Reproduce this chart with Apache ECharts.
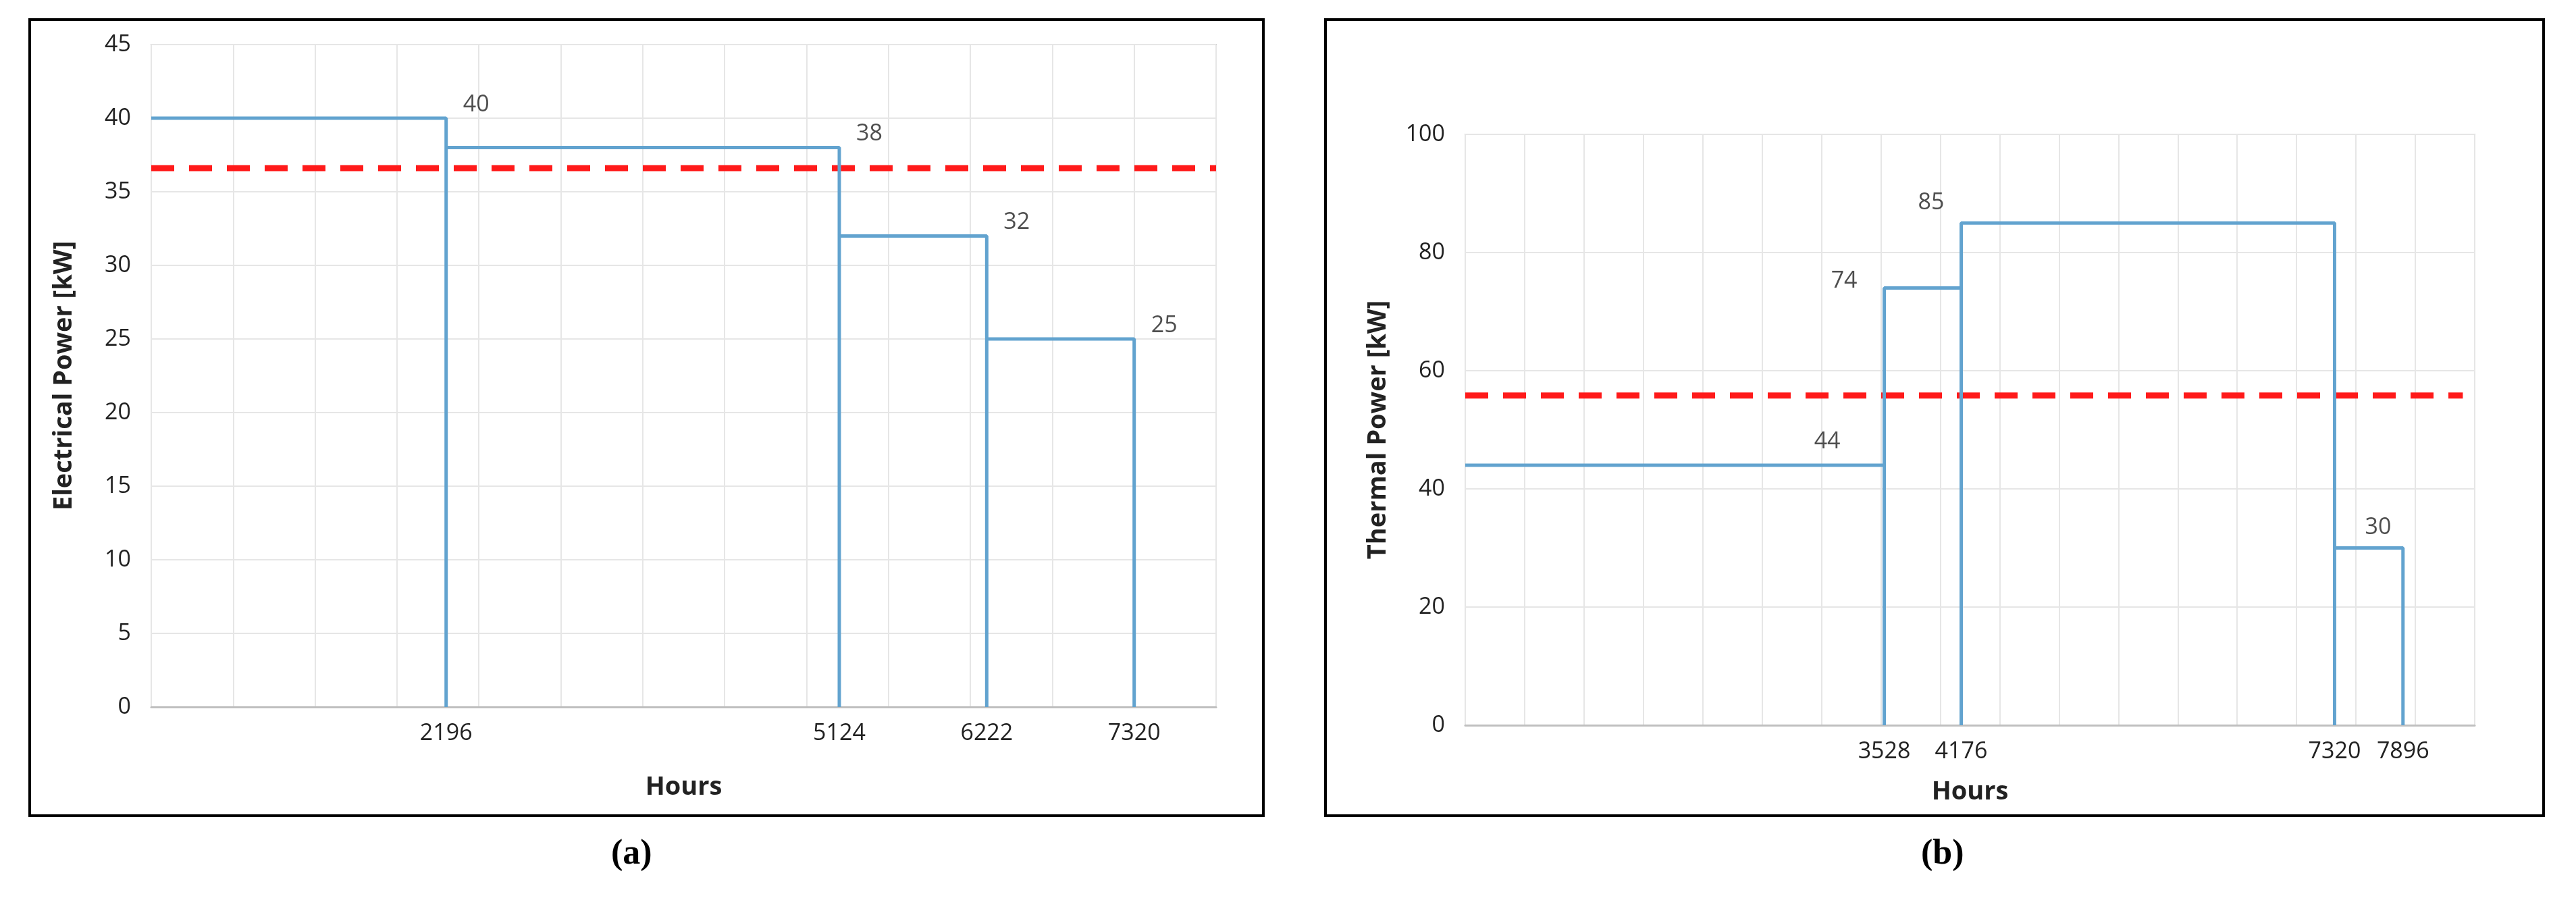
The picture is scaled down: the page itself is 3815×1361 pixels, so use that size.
<!DOCTYPE html>
<html><head><meta charset="utf-8">
<script src="https://cdn.jsdelivr.net/npm/echarts@6/dist/echarts.min.js"></script>
<style>html,body{margin:0;background:#fff}#c{width:3815px;height:1361px}</style>
</head><body><div id="c"></div>
<script>
// data
let elecHours = [0, 2196, 5124, 6222, 7320];
let elecValues = [40, 38, 32, 25];
let elecMean = 36.6;
let thermHours = [0, 3528, 4176, 7320, 7896];
let thermValues = [44, 74, 85, 30];
let thermMean = 55.8;

function stepPts(h, v){
  let pts = [];
  for(let i=0;i<v.length;i++){
    if(i>0) pts.push([h[i], v[i]]);
    else pts.push([h[0], v[0]]);
    pts.push([h[i+1], v[i]]);
    pts.push([h[i+1], 0]);
  }
  return pts;
}

let tickFont = {fontFamily:'Open Sans', fontSize:34, color:'#222'};
let blue = '#62a3cf';

function lbl(pos, off){
  return {show:true, position:pos, offset:off, fontSize:34, fontFamily:'Open Sans', color:'#222', formatter: p => p.value[1]};
}

var myChart = echarts.init(document.getElementById('c'));
var option = {
  animation:false,
  backgroundColor:'#fff',
  graphic:[
    {type:'rect', shape:{x:44,y:29,width:1827,height:1179}, style:{fill:'none', stroke:'#000', lineWidth:4}},
    {type:'rect', shape:{x:1963,y:29,width:1804,height:1179}, style:{fill:'none', stroke:'#000', lineWidth:4}},
    {type:'text', left:905, top:1240, style:{text:'(a)', font:'bold 52px "Liberation Serif"', fill:'#000'}},
    {type:'text', left:2845, top:1240, style:{text:'(b)', font:'bold 52px "Liberation Serif"', fill:'#000'}}
  ],
  grid:[
    {left:224, right:2014, top:66, bottom:314, show:true, borderColor:'#c8c8c8', borderWidth:2},
    {left:2170, right:150, top:199, bottom:287, show:true, borderColor:'#c8c8c8', borderWidth:2}
  ],
  xAxis:[
    {gridIndex:0, position:'bottom', type:'value', min:0, max:7930, interval:610, axisLabel:{show:false}, axisTick:{show:false}, axisLine:{show:false}, splitLine:{lineStyle:{color:'#e6e6e6', width:2}}},
    {gridIndex:0, position:'bottom', type:'value', min:0, max:7930, name:'Hours', nameLocation:'middle', nameGap:100,
      nameTextStyle:{fontFamily:'Open Sans', fontWeight:'bold', fontSize:38, color:'#222'},
      axisLabel:Object.assign({customValues:elecHours.slice(1), margin:22, formatter: v => String(v)}, tickFont), axisTick:{show:false}, axisLine:{show:true, lineStyle:{color:'#bfbfbf', width:3}}, splitLine:{show:false}},
    {gridIndex:1, position:'bottom', type:'value', min:0, max:8500, interval:500, axisLabel:{show:false}, axisTick:{show:false}, axisLine:{show:false}, splitLine:{lineStyle:{color:'#e6e6e6', width:2}}},
    {gridIndex:1, position:'bottom', type:'value', min:0, max:8500, name:'Hours', nameLocation:'middle', nameGap:80,
      nameTextStyle:{fontFamily:'Open Sans', fontWeight:'bold', fontSize:38, color:'#222'},
      axisLabel:Object.assign({customValues:thermHours.slice(1), margin:22, formatter: v => String(v)}, tickFont), axisTick:{show:false}, axisLine:{show:true, lineStyle:{color:'#bfbfbf', width:3}}, splitLine:{show:false}}
  ],
  yAxis:[
    {gridIndex:0, type:'value', min:0, max:45, interval:5, name:'Electrical Power [kW]', nameLocation:'middle', nameGap:110,
      nameTextStyle:{fontFamily:'Open Sans', fontWeight:'bold', fontSize:38, color:'#222'},
      axisLabel:Object.assign({margin:30}, tickFont), axisLine:{show:false}, axisTick:{show:false}, splitLine:{lineStyle:{color:'#e6e6e6', width:2}}},
    {gridIndex:1, type:'value', min:0, max:100, interval:20, name:'Thermal Power [kW]', nameLocation:'middle', nameGap:110,
      nameTextStyle:{fontFamily:'Open Sans', fontWeight:'bold', fontSize:38, color:'#222'},
      axisLabel:Object.assign({margin:30}, tickFont), axisLine:{show:false}, axisTick:{show:false}, splitLine:{lineStyle:{color:'#e6e6e6', width:2}}}
  ],
  series:[
    {type:'line', xAxisIndex:1, yAxisIndex:0, data:stepPts(elecHours, elecValues), showSymbol:false, lineStyle:{color:blue, width:5}},
    {type:'line', xAxisIndex:1, yAxisIndex:0, data:[[0,elecMean],[7930,elecMean]], showSymbol:false, lineStyle:{color:'#ff1a1a', width:9, type:[34,22]}, z:1},
    {type:'scatter', xAxisIndex:1, yAxisIndex:0, symbolSize:0,
      data:elecValues.map((v,i)=>[elecHours[i+1], v]), label:lbl('right',[20,-20])},
    {type:'line', xAxisIndex:3, yAxisIndex:1, data:stepPts(thermHours, thermValues), showSymbol:false, lineStyle:{color:blue, width:5}},
    {type:'line', xAxisIndex:3, yAxisIndex:1, data:[[0,thermMean],[8400,thermMean]], showSymbol:false, lineStyle:{color:'#ff1a1a', width:9, type:[34,22]}, z:1},
    {type:'scatter', xAxisIndex:3, yAxisIndex:1, symbolSize:0,
      data:[
        {value:[3528,44], label:lbl('left',[-60,-35])},
        {value:[3528,74], label:lbl('left',[-35,-10])},
        {value:[4176,85], label:lbl('left',[-20,-30])},
        {value:[7320,30], label:lbl('right',[40,-30])}
      ]}
  ]
};
myChart.setOption(option);
</script>
</body></html>
